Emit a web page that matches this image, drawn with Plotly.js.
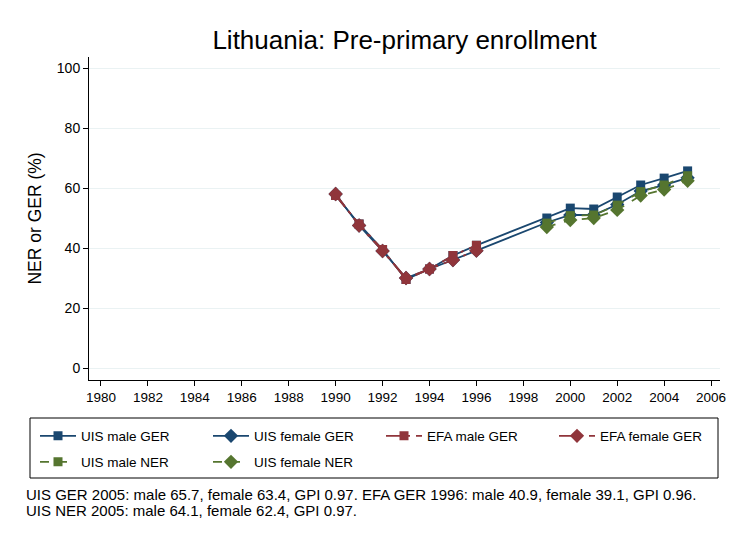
<!DOCTYPE html>
<html>
<head>
<meta charset="utf-8">
<script src="https://cdn.plot.ly/plotly-3.0.1.min.js"></script>
<style>html,body{margin:0;padding:0;background:#fff;}#chart{width:731px;height:538px;}</style>
</head>
<body>
<div id="chart"></div>
<script>
const uisYears = [1990, 1991, 1992, 1993, 1994, 1995, 1996, 1999, 2000, 2001, 2002, 2003, 2004, 2005];
const uisMaleGER = [57.5, 48, 39.5, 29.5, 33, 37.5, 40.9, 50, 53.3, 53, 57, 61, 63.3, 65.7];
const uisFemaleGER = [58, 47.5, 39, 30, 33, 36, 39.1, 48.5, 51, 51, 54.5, 59, 61, 63.4];
const efaYears = [1990, 1991, 1992, 1993, 1994, 1995, 1996];
const efaMaleGER = [57.5, 48, 39.5, 29.5, 33, 37.5, 40.9];
const efaFemaleGER = [58, 47.5, 39, 30, 33, 36, 39.1];
const nerYears = [1999, 2000, 2001, 2002, 2003, 2004, 2005];
const uisMaleNER = [48.3, 50.8, 51, 54.3, 58.8, 61, 64.1];
const uisFemaleNER = [47, 49.3, 50, 52.7, 57.5, 59.5, 62.4];
const xTicks = [1980, 1982, 1984, 1986, 1988, 1990, 1992, 1994, 1996, 1998, 2000, 2002, 2004, 2006];
const yTicks = [0, 20, 40, 60, 80, 100];

const navy = '#1a476f', maroon = '#90353b', green = '#55752f';

function tr(name, x, y, color, dash, symbol, size, leg) {
  return {
    type: 'scatter', mode: 'lines+markers', name: name, x: x, y: y, legend: leg,
    line: {color: color, width: 1.8, dash: dash},
    marker: {color: color, symbol: symbol, size: size, line: {width: 0}}
  };
}

const data = [
  tr('UIS male GER', uisYears, uisMaleGER, navy, 'solid', 'square', 9, 'legend'),
  tr('UIS female GER', uisYears, uisFemaleGER, navy, 'solid', 'diamond', 11, 'legend'),
  tr('EFA male GER', efaYears, efaMaleGER, maroon, 'longdashdot', 'square', 9, 'legend'),
  tr('EFA female GER', efaYears, efaFemaleGER, maroon, 'longdashdot', 'diamond', 11, 'legend'),
  tr('UIS male NER', nerYears, uisMaleNER, green, 'dash', 'square', 9, 'legend2'),
  tr('UIS female NER', nerYears, uisFemaleNER, green, 'dash', 'diamond', 11, 'legend2')
];

const pw = 631, ph = 323, L = 89, B = 380;
function px(x) { return (x - L) / pw; }
function py(y) { return (B - y) / ph; }

const legCommon = {
  orientation: 'h', xanchor: 'left', yanchor: 'middle',
  borderwidth: 0, bgcolor: 'rgba(0,0,0,0)',
  font: {size: 13.5}, entrywidth: 122, entrywidthmode: 'pixels',
  traceorder: 'normal', itemwidth: 36
};

const layout = {
  width: 731, height: 538,
  paper_bgcolor: '#ffffff', plot_bgcolor: '#ffffff',
  font: {family: 'Liberation Sans, Arial, sans-serif', color: '#000'},
  margin: {l: 89, r: 11, t: 57, b: 158},
  title: {text: 'Lithuania: Pre-primary enrollment', font: {size: 26, color: '#000'},
          x: 0.5535, xanchor: 'center', y: 0.925, yanchor: 'middle'},
  xaxis: {
    range: [1979.49, 2006.38], tickvals: xTicks, ticktext: xTicks.map(String),
    showgrid: false, zeroline: false, showline: true, linecolor: '#000', linewidth: 1,
    ticks: 'outside', ticklen: 5, tickcolor: '#000', tickfont: {size: 13.5},
    mirror: false
  },
  yaxis: {
    range: [-4, 103.67], tickvals: yTicks, ticktext: yTicks.map(String),
    showgrid: true, gridcolor: '#eaf2f3', gridwidth: 1, zeroline: false,
    showline: true, linecolor: '#000', linewidth: 1,
    ticks: 'outside', ticklen: 5, tickcolor: '#000', tickfont: {size: 14},
    title: {text: 'NER or GER (%)', font: {size: 17.5}, standoff: 10}
  },
  showlegend: true,
  legend: Object.assign({}, legCommon, {x: px(35), y: py(436)}),
  legend2: Object.assign({}, legCommon, {x: px(35), y: py(462)}),
  shapes: [{
    type: 'rect', xref: 'paper', yref: 'paper',
    x0: px(30), x1: px(718), y0: py(418), y1: py(478),
    line: {color: '#000', width: 1}, fillcolor: 'rgba(0,0,0,0)'
  }],
  annotations: [
    {xref: 'paper', yref: 'paper', x: px(24), y: py(494), xanchor: 'left', yanchor: 'middle',
     align: 'left', showarrow: false, font: {size: 15},
     text: 'UIS GER 2005: male 65.7, female 63.4, GPI 0.97. EFA GER 1996: male 40.9, female 39.1, GPI 0.96.'},
    {xref: 'paper', yref: 'paper', x: px(24), y: py(510), xanchor: 'left', yanchor: 'middle',
     align: 'left', showarrow: false, font: {size: 15},
     text: 'UIS NER 2005: male 64.1, female 62.4, GPI 0.97.'}
  ]
};

Plotly.newPlot('chart', data, layout, {displayModeBar: false, staticPlot: true});
</script>
</body>
</html>
